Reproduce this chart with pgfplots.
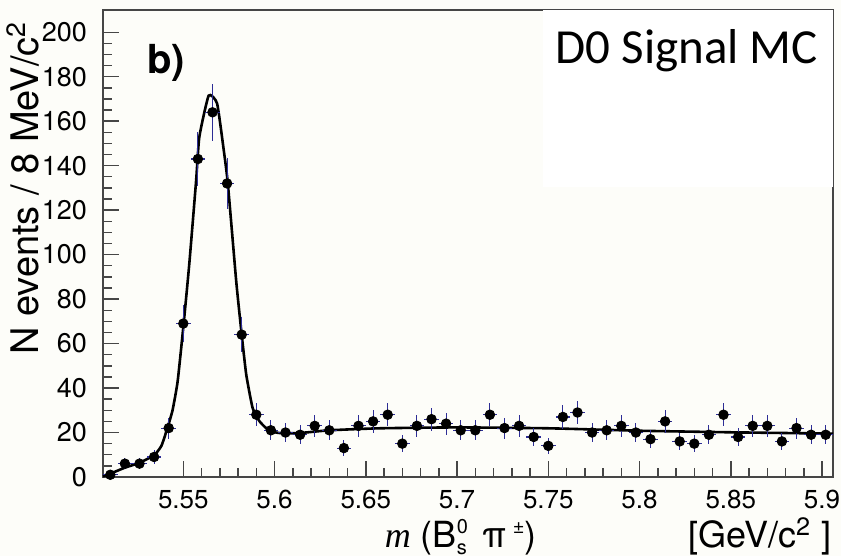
\documentclass[border=0pt]{standalone}
\usepackage{pgfplots}
\pgfplotsset{compat=1.18}
\usepackage{pgfplotstable}
\usepackage{fontspec}
\setmainfont{TeX Gyre Heros}
\newfontfamily\serifit{Liberation Serif}
\newfontfamily\calib{Carlito}
\definecolor{bgc}{RGB}{253,253,249}
\definecolor{errc}{RGB}{45,45,150}
\definecolor{framec}{RGB}{70,70,70}

\pgfplotstableread{
x y ey
5.510 1 1.00
5.518 6 2.45
5.526 6 2.45
5.534 9 3.00
5.542 22 4.69
5.550 69 8.31
5.558 143 11.96
5.566 164 12.81
5.574 132 11.49
5.582 64 8.00
5.590 28 5.29
5.598 21 4.58
5.606 20 4.47
5.614 19 4.36
5.622 23 4.80
5.630 21 4.58
5.638 13 3.61
5.646 23 4.80
5.654 25 5.00
5.662 28 5.29
5.670 15 3.87
5.678 23 4.80
5.686 26 5.10
5.694 24 4.90
5.702 21 4.58
5.710 21 4.58
5.718 28 5.29
5.726 22 4.69
5.734 23 4.80
5.742 18 4.24
5.750 14 3.74
5.758 27 5.20
5.766 29 5.39
5.774 20 4.47
5.782 21 4.58
5.790 23 4.80
5.798 20 4.47
5.806 17 4.12
5.814 25 5.00
5.822 16 4.00
5.830 15 3.87
5.838 19 4.36
5.846 28 5.29
5.854 18 4.24
5.862 23 4.80
5.870 23 4.80
5.878 16 4.00
5.886 22 4.69
5.894 19 4.36
5.902 19 4.36
}\datatable

\pgfplotstableread{
x y
5.5060 0.3
5.5100 1.5
5.5180 4.2
5.5260 6.4
5.5340 9.8
5.5380 14.0
5.5413 22.0
5.5441 30.0
5.5469 43.0
5.5502 69.0
5.5533 96.0
5.5570 133.0
5.5588 153.0
5.5639 171.5
5.5685 168.0
5.5720 148.0
5.5744 132.0
5.5790 88.0
5.5820 64.0
5.5845 46.0
5.5880 31.0
5.5918 25.0
5.5973 20.7
5.6046 19.6
5.6156 19.9
5.6300 21.0
5.6577 21.9
5.7000 22.3
5.7500 21.9
5.8000 20.8
5.8500 20.1
5.9060 19.5
}\fittable

\begin{document}
\begin{tikzpicture}
\path[use as bounding box, fill=bgc] (0,0) rectangle (420.5pt,278pt);
\begin{axis}[
  at={(51.5pt,39.5pt)}, anchor=south west,
  scale only axis, width=365pt, height=233.5pt,
  xmin=5.506, xmax=5.906, ymin=0, ymax=210,
  axis background/.style={fill=bgc},
  axis line style={framec, line width=0.8pt},
  tick align=inside, tick pos=left,
  xtick={5.55,5.6,5.65,5.7,5.75,5.8,5.85,5.9},
  xticklabels={5.55,5.6,5.65,5.7,5.75,5.8,5.85,5.9},
  minor x tick num=4,
  ytick={0,20,40,60,80,100,120,140,160,180,200},
  minor y tick num=3,
  major tick length=8pt, minor tick length=4.5pt,
  every tick/.style={framec, line width=0.7pt},
  /pgf/number format/assume math mode=true,
  xticklabel style={yshift=-3pt, font=\fontsize{13}{15}\selectfont},
  yticklabel style={xshift=-4.5pt, font=\fontsize{13.5}{15}\selectfont},
  clip=false,
]
% white box for text
\fill[white] (axis description cs:0.603,0.62) rectangle (axis description cs:1,1);
\addplot[black, line width=1.3pt, smooth, tension=0.3] table[x=x,y=y] {\fittable};
\addplot[only marks, mark=*, mark size=2.4pt, mark options={fill=black, draw=black},
  error bars/.cd, x dir=both, x fixed=0.004, y dir=both, y explicit,
  error mark=none, error bar style={errc, line width=0.55pt}]
  table[x=x,y=y,y error=ey] {\datatable};
\node[anchor=base west, font=\fontsize{20}{22}\selectfont\bfseries, inner sep=0pt]
  at (axis description cs:0.06,0.865) {b)};
\node[anchor=base east, font=\calib\fontsize{24.5}{26}\selectfont, inner sep=0pt]
  at (axis description cs:0.98,0.885) {D0 Signal MC};
\node[rotate=90, anchor=base west, inner sep=0pt, font=\fontsize{19}{21}\selectfont]
  at (axis description cs:-0.089,0.261) {N events / 8 MeV/c\textsuperscript{2}};
\node[anchor=base, inner sep=0pt, font=\fontsize{18}{20}\selectfont]
  at (axis description cs:0.49,-0.152) {{\serifit\itshape m} (B\rlap{\raisebox{0.75ex}{\fontsize{10}{11}\selectfont 0}}\raisebox{-0.35ex}{\fontsize{10}{11}\selectfont s} \,π\,\raisebox{0.75ex}{\fontsize{10}{11}\selectfont ±})};
\node[anchor=base east, inner sep=0pt, font=\fontsize{18}{20}\selectfont]
  at (axis description cs:0.998,-0.152) {[GeV/c\textsuperscript{2} ]};
\end{axis}
\end{tikzpicture}
\end{document}
